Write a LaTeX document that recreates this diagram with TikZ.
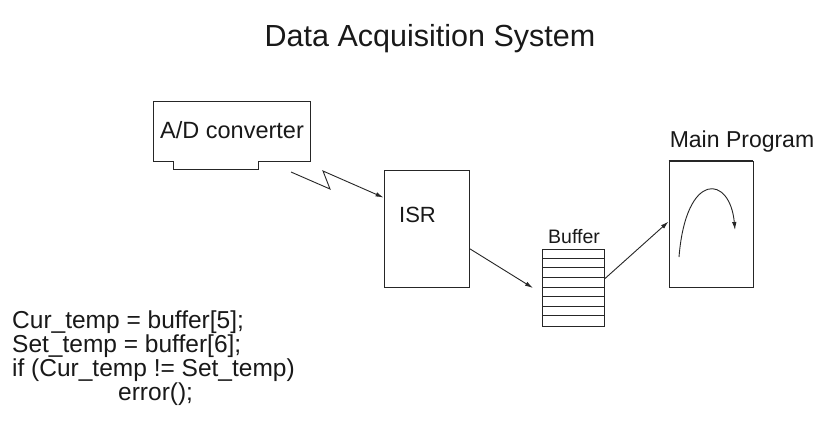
\documentclass[tikz,border=0pt]{standalone}
\usepackage{fontspec}
\setmainfont{Liberation Sans}
\usetikzlibrary{calc,arrows.meta}
\begin{document}
\begin{tikzpicture}[x=1pt,y=-1pt,
  ln/.style={draw=black!85,line width=0.9pt},
  arr/.style={ln,-{Latex[length=8pt,width=4.5pt]}},
  lbl/.style={inner sep=0pt,text=black!90},
  code/.style={lbl,anchor=base west,font=\fontsize{24.5}{28}\selectfont},
  boxed/.style={ln,rectangle,inner sep=0pt,fill=white}]
\useasboundingbox[fill=white] (0,0) rectangle (818,421);
% title
\node[lbl,anchor=base,font=\fontsize{30.5}{36}\selectfont] (title) at (430,46) {Data Acquisition System};
% A/D converter
\draw[ln] (153,101) -- (310,101) -- (310,161) -- (258,161) -- (258,169) -- (173,169) -- (173,161) -- (153,161) -- cycle;
\node[lbl,anchor=base west,font=\fontsize{23.5}{27}\selectfont] (adtext) at (160,138) {A/D converter};
\coordinate (lstart) at (291,172);
% ISR
\node[boxed,minimum width=85pt,minimum height=117pt] (isr) at (426.5,228.5) {};
\node[lbl,anchor=base west,font=\fontsize{22}{26}\selectfont] (isrtext) at (399,222) {ISR};
% Buffer
\node[boxed,minimum width=62pt,minimum height=77pt] (buf) at (573.5,287.5) {};
\foreach \i in {1,...,7} {
  \draw[ln] ($(buf.north west)+(0,\i*9.6)$) -- ($(buf.north east)+(0,\i*9.6)$);
}
\node[lbl,anchor=base,font=\fontsize{19.5}{22}\selectfont] (buflabel) at (574,243) {Buffer};
\coordinate (bufin) at (533,288);
% Main program
\node[boxed,minimum width=84pt,minimum height=126pt] (main) at (711,224) {};
\draw[draw=black!85,line width=2pt] (main.north west) -- (main.north east);
\node[lbl,anchor=base,font=\fontsize{23}{26}\selectfont] (maintext) at (742,147) {Main Program};
\coordinate (cs) at (679,257);
\coordinate (ce) at (735,230);
\draw[arr] (cs) .. controls (686,170) and (730,175) .. (ce);
% connectors
\draw[arr] (lstart) -- (330,189) -- (323,171) -- ($(isr.north west)+(0,28)$);
\draw[arr] ($(isr.north east)+(0,79)$) -- (bufin);
\draw[arr] ($(buf.north east)+(0,30)$) -- ($(main.north west)+(0,61)$);
% code
\node[code] (c1) at (12,328) {Cur\_temp = buffer[5];};
\node[code] (c2) at (12,352) {Set\_temp = buffer[6];};
\node[code] (c3) at (12,376) {if (Cur\_temp != Set\_temp)};
\node[code] (c4) at (118,400) {error();};
\end{tikzpicture}
\end{document}
